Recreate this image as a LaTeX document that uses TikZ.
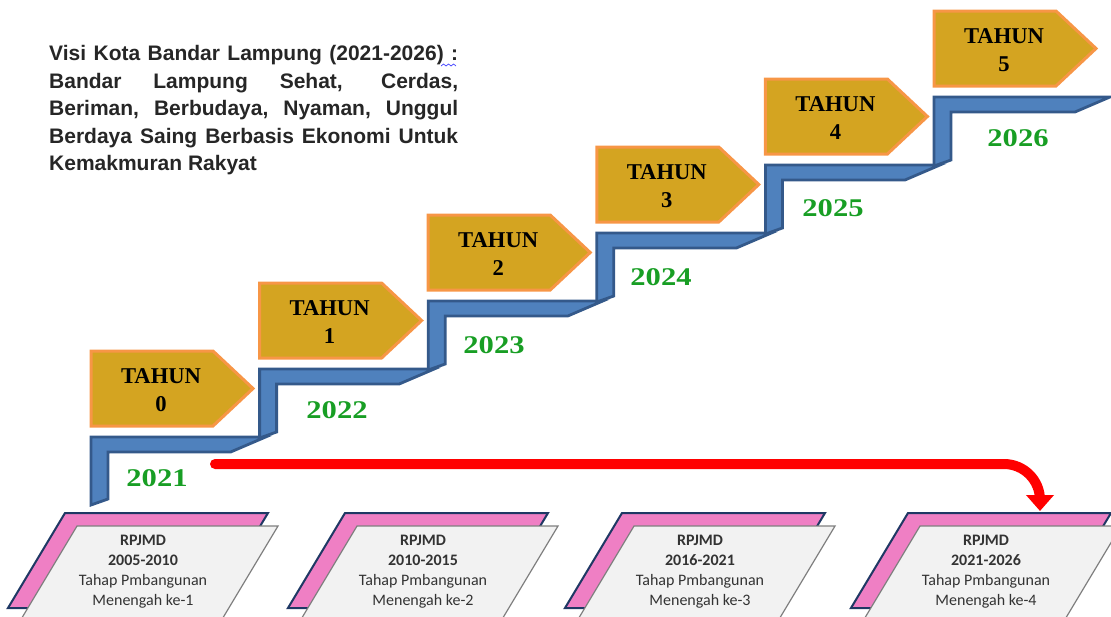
\documentclass[tikz,border=0pt]{standalone}
\usepackage{fontspec}
\setmainfont{Liberation Serif}
\newfontfamily\arialb{Liberation Sans}
\newfontfamily\yearfont[FakeStretch=1.2]{Liberation Serif}
\newfontfamily\cardfont{Carlito}
\usetikzlibrary{arrows.meta}
\definecolor{gold}{HTML}{D4A421}
\definecolor{orangeb}{HTML}{F79646}
\definecolor{barfill}{HTML}{4F81BD}
\definecolor{bardraw}{HTML}{34598A}
\definecolor{yeargreen}{RGB}{24,158,36}
\definecolor{pinkc}{HTML}{EF7FC4}
\definecolor{navyc}{HTML}{1F3864}
\definecolor{cardgray}{HTML}{F2F2F2}
\definecolor{cardedge}{HTML}{7F7F7F}
\definecolor{cardtext}{HTML}{333333}
\tikzset{
  stair/.style={fill=barfill, draw=bardraw, line width=2.8pt, line join=miter},
  tbox/.style={fill=gold, draw=orangeb, line width=3pt, line join=miter},
  tahun/.style={inner sep=0pt, font=\bfseries\fontsize{22.6}{26}\selectfont, text=black},
  yearlbl/.style={inner sep=0pt, font=\yearfont\bfseries\fontsize{25.5}{28}\selectfont, text=yeargreen},
  cardback/.style={fill=pinkc, draw=navyc, line width=2pt},
  cardfront/.style={fill=cardgray, draw=cardedge, line width=1.2pt},
  cardtxt/.style={inner sep=0pt, align=center, text=cardtext, font=\cardfont\fontsize{16}{20}\selectfont},
  redarrow/.style={draw=red, line width=10pt, line cap=round, rounded corners=36pt, -{Triangle[width=27pt,length=16pt]}},
  visi/.style={anchor=north west, inner sep=0pt, text width=409pt, align=justify, font=\arialb\bfseries\fontsize{21}{27.6}\selectfont, text={black!85}}
}
\begin{document}
\begin{tikzpicture}[x=1pt,y=-1pt]
\useasboundingbox (0,0) rectangle (1111,616);
% staircase
\foreach \i in {0,...,5}{
  \pgfmathsetmacro\L{91+168.6*\i}
  \pgfmathsetmacro\T{437-68*\i}
  \pgfmathsetmacro\B{\i==0 ? 505 : \T+69}
  \pgfmathsetmacro\R{\i<5 ? \L+174.6 : 1110}
  \draw[stair] (\L,\B) -- (\L,\T) -- (\R,\T) -- (\R-35,\T+15) -- (\L+17,\T+15) -- (\L+17,\B-6) -- cycle;
}
% TAHUN boxes
\foreach \i in {0,...,5}{
  \pgfmathsetmacro\X{91+168.6*\i}
  \pgfmathsetmacro\Y{351-68*\i}
  \draw[tbox] (\X,\Y) -- (\X+122,\Y) -- (\X+162,\Y+37.5) -- (\X+122,\Y+75) -- (\X,\Y+75) -- cycle;
  \node[tahun] (t\i) at (\X+70,\Y+25) {TAHUN};
  \node[tahun] (n\i) at (\X+70,\Y+53) {\i};
}
% years
\node[yearlbl] (y0) at (157,478) {2021};
\node[yearlbl] (y1) at (337,410) {2022};
\node[yearlbl] (y2) at (494,345) {2023};
\node[yearlbl] (y3) at (661,277) {2024};
\node[yearlbl] (y4) at (833,208) {2025};
\node[yearlbl] (y5) at (1018,138) {2026};
% vision text
\node[visi] (visitext) at (49,45) {Visi Kota Bandar Lampung (2021-2026) :\linebreak Bandar Lampung Sehat, Cerdas,\linebreak Beriman, Berbudaya, Nyaman, Unggul\linebreak Berdaya Saing Berbasis Ekonomi Untuk\linebreak Kemakmuran Rakyat};
\draw[blue!75, line width=0.7pt] (441,66) -- (443.5,64) -- (446,66) -- (448.5,64) -- (451,66) -- (453.5,64) -- (456,66);
% cards
\foreach \x/\yr/\k in {65/2005-2010/1, 345/2010-2015/2, 622/2016-2021/3, 908/2021-2026/4}{
  \draw[cardback] (\x,513) -- (\x+203,513) -- (\x+203-0.6*95,608) -- (\x-0.6*95,608) -- cycle;
  \draw[cardfront] (\x+12,526) -- (\x+213,526) -- (\x+213-0.6*100,626) -- (\x+12-0.6*100,626) -- cycle;
  \node[cardtxt, anchor=north] (c\k) at (\x+78,535) {\textbf{RPJMD}\\\textbf{\yr}\\Tahap Pmbangunan\\Menengah ke-\k};
}
% red arrow
\coordinate (rs) at (215,464);
\coordinate (rt) at (1040,511);
\draw[redarrow] (rs) -- (rt |- rs) -- (rt);
\end{tikzpicture}
\end{document}
